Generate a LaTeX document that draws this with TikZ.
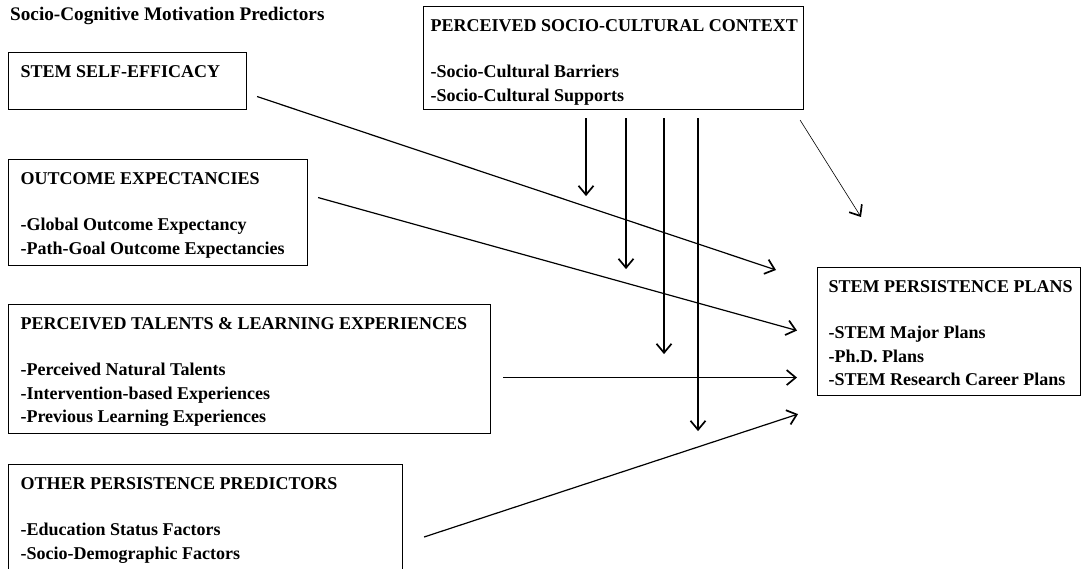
\documentclass[tikz,border=0pt]{standalone}
\usepackage{fontspec}
\setmainfont{Liberation Serif}
\usetikzlibrary{calc, arrows.meta}

% box text: width, height, left pad, lines
\newcommand{\factortext}[4]{%
  \parbox[c][#2][t]{#1}{\raggedright\leftskip=#3\relax\rule{0pt}{25pt}#4}}
\newcommand{\headgap}{\\[22.5pt]}

\tikzset{
  factor/.style={draw, line width=1.1pt, anchor=north west, inner sep=0pt},
  flow/.style={-{Straight Barb[length=9pt, width=15pt, line width=1.7pt]}, line width=1.2pt},
  thinflow/.style={flow, line width=0.6pt}
}

\begin{document}
\begin{tikzpicture}[x=1pt, y=-1pt, font=\fontsize{18}{23.5}\selectfont\bfseries]
    \clip (0,0) rectangle (1089,569);

    % =================================================================
    % 1. TITLE
    % =================================================================
    \node[anchor=base west, inner sep=0pt, font=\fontsize{19.2}{23}\selectfont\bfseries] (title) at (10,21)
        {Socio-Cognitive Motivation Predictors};

    % =================================================================
    % 2. PREDICTOR BOXES (left column)
    % =================================================================
    \node[factor] (selfeff) at (8,52) {\factortext{238pt}{57pt}{12pt}{STEM SELF-EFFICACY}};
    \node[factor] (outexp) at (8,159) {\factortext{299pt}{106pt}{12pt}{OUTCOME EXPECTANCIES\headgap
        -Global Outcome Expectancy\\ -Path-Goal Outcome Expectancies}};
    \node[factor] (talents) at (8,304) {\factortext{482pt}{129pt}{12pt}{PERCEIVED TALENTS \& LEARNING EXPERIENCES\headgap
        -Perceived Natural Talents\\ -Intervention-based Experiences\\ -Previous Learning Experiences}};
    \node[factor] (other) at (8,464) {\factortext{394pt}{130pt}{12pt}{OTHER PERSISTENCE PREDICTORS\headgap
        -Education Status Factors\\ -Socio-Demographic Factors}};

    % =================================================================
    % 3. CONTEXT AND OUTCOME BOXES
    % =================================================================
    \node[factor] (context) at (423,6) {\factortext{380pt}{103pt}{7pt}{PERCEIVED SOCIO-CULTURAL CONTEXT\headgap
        -Socio-Cultural Barriers\\ -Socio-Cultural Supports}};
    \node[factor] (plans) at (817,267) {\factortext{263pt}{128pt}{11pt}{STEM PERSISTENCE PLANS\headgap
        -STEM Major Plans\\ -Ph.D. Plans\\ -STEM Research Career Plans}};

    % =================================================================
    % 4. ARROWS
    % =================================================================
    % predictors -> plans
    \draw[flow] ($(selfeff.east)+(10,15.5)$) -- ($(plans.north west)+(-41,3)$);
    \draw[flow] ($(outexp.east)+(10,-15)$) -- ($(plans.west)+(-20,-1)$);
    \draw[flow] ($(talents.east)+(12,8.5)$) -- ($(plans.west)+(-20,46)$);
    \draw[flow] ($(other.north east)+(21,73)$) -- ($(plans.south west)+(-19,18)$);

    % context moderates the paths
    \foreach \dx/\len in {163/78, 203/151, 241/236, 275/313}
        \draw[flow] ($(context.south west)+(\dx,8)$) -- ++(0,\len);
    \draw[thinflow] ($(context.south east)+(-4,10)$) -- ($(plans.north west)+(44,-50)$);

\end{tikzpicture}
\end{document}
